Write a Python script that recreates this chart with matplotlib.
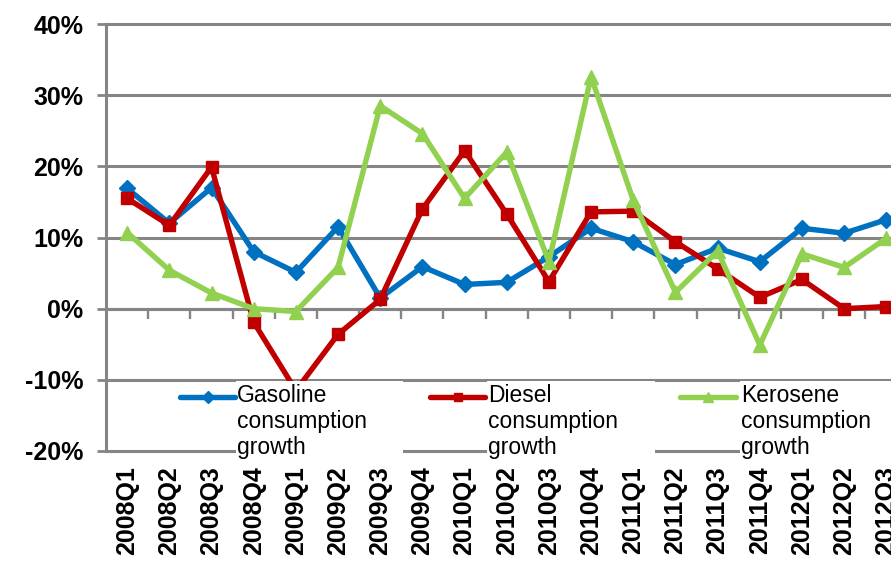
import matplotlib
matplotlib.use("Agg")
import matplotlib.pyplot as plt
from matplotlib.lines import Line2D
from matplotlib.patches import Rectangle
from matplotlib.ticker import FixedLocator, NullFormatter

# Quarterly year-on-year consumption growth (%)
quarters = ["2008Q1", "2008Q2", "2008Q3", "2008Q4",
            "2009Q1", "2009Q2", "2009Q3", "2009Q4",
            "2010Q1", "2010Q2", "2010Q3", "2010Q4",
            "2011Q1", "2011Q2", "2011Q3", "2011Q4",
            "2012Q1", "2012Q2", "2012Q3"]
gasoline = [16.9, 12.0, 17.0, 8.0, 5.1, 11.5, 1.5, 5.9, 3.4, 3.7,
            7.3, 11.3, 9.4, 6.2, 8.5, 6.6, 11.3, 10.6, 12.5]
diesel = [15.5, 11.7, 19.9, -1.9, -11.5, -3.6, 1.3, 14.0, 22.2, 13.3,
          3.8, 13.6, 13.7, 9.4, 5.6, 1.6, 4.1, 0.0, 0.3]
kerosene = [10.7, 5.4, 2.2, 0.0, -0.4, 5.8, 28.5, 24.6, 15.5, 22.0,
            6.6, 32.6, 15.2, 2.3, 8.1, -5.1, 7.7, 5.8, 9.9]
y_ticks = [-20, -10, 0, 10, 20, 30, 40]

series_names = ["Gasoline\nconsumption\ngrowth",
                "Diesel\nconsumption\ngrowth",
                "Kerosene\nconsumption\ngrowth"]
colors = ["#0070C0", "#C00000", "#92D050"]
markers = ["D", "s", "^"]
marker_sizes = [8, 8, 10]

GRID = "#858585"
W, H = 891, 563

fig = plt.figure(figsize=(W / 100, H / 100), dpi=100)
# plot area spans x 106..907 px (runs past the right edge), y 24..451 px
ax = fig.add_axes([106.1 / W, 1 - 451 / H, 801.3 / W, 427 / H])

x = list(range(len(quarters)))
for vals, c, m, ms in zip([gasoline, diesel, kerosene], colors, markers, marker_sizes):
    ax.plot(x, vals, color=c, lw=3.9, marker=m, ms=ms, mec=c, mfc=c,
            solid_joinstyle="round", zorder=3)

ax.set_xlim(-0.5, len(quarters) - 0.5)
ax.set_ylim(-20, 40)

# y axis
ax.set_yticks(y_ticks)
ax.set_yticklabels([f"{v}%" for v in y_ticks])
ax.tick_params(axis="y", direction="out", length=6.5, width=2, color=GRID,
               pad=10, labelsize=18)
ax.yaxis.grid(True, color=GRID, lw=2.2)
for gl in ax.get_ygridlines():
    gl.set_clip_on(False)
ax.set_axisbelow(True)
for lab in ax.get_yticklabels():
    lab.set_fontfamily("Liberation Sans")
    lab.set_fontweight("bold")

# category labels at the bottom of the plot
ax.set_xticks(x)
ax.set_xticklabels(quarters, rotation=90, va="top", ha="center")
ax.tick_params(axis="x", length=0, pad=11, labelsize=18)
for lab in ax.get_xticklabels():
    lab.set_fontfamily("Liberation Sans")
    lab.set_fontweight("bold")

for side in ["top", "right", "bottom"]:
    ax.spines[side].set_visible(False)
ax.spines["left"].set_color(GRID)
ax.spines["left"].set_linewidth(2.2)

# horizontal axis line crossing at 0% with category-boundary ticks
sec = ax.secondary_xaxis(20 / 60)
sec.xaxis.set_major_locator(FixedLocator([i + 0.5 for i in range(len(quarters) - 1)]))
sec.xaxis.set_major_formatter(NullFormatter())
sec.tick_params(axis="x", direction="out", length=7, width=1.7, color=GRID)
sec.spines["bottom"].set_color(GRID)
sec.spines["bottom"].set_linewidth(2.2)

# legend entries laid over the lower part of the plot
def fx(px):
    return px / W

def fy(py):
    return 1 - py / H

handle_spans = [(180, 235), (430, 485), (680, 736)]
box_spans = [(236, 403), (487, 655), (740, 910)]
text_left = [237, 488, 741]
for (hx0, hx1), (bx0, bx1), tx, name, c, m, ms in zip(
        handle_spans, box_spans, text_left, series_names, colors, markers, marker_sizes):
    fig.add_artist(Rectangle((fx(bx0), fy(464)), fx(bx1) - fx(bx0), fy(381) - fy(464),
                             transform=fig.transFigure, facecolor="white",
                             edgecolor="none", zorder=5))
    fig.add_artist(Line2D([fx(hx0), fx(hx1)], [fy(397), fy(397)],
                          transform=fig.transFigure, color=c, lw=3.9,
                          solid_capstyle="round", zorder=6))
    fig.add_artist(Line2D([fx((hx0 + hx1) / 2)], [fy(397)],
                          transform=fig.transFigure, color=c, marker=m,
                          ms=ms * 0.75, mec=c, mfc=c, zorder=6))
    fig.text(fx(tx), fy(384), name, ha="left", va="top", fontsize=16.5,
             family="Liberation Sans", linespacing=1.18, color="black", zorder=7)

fig.savefig("out.png", dpi=100)
